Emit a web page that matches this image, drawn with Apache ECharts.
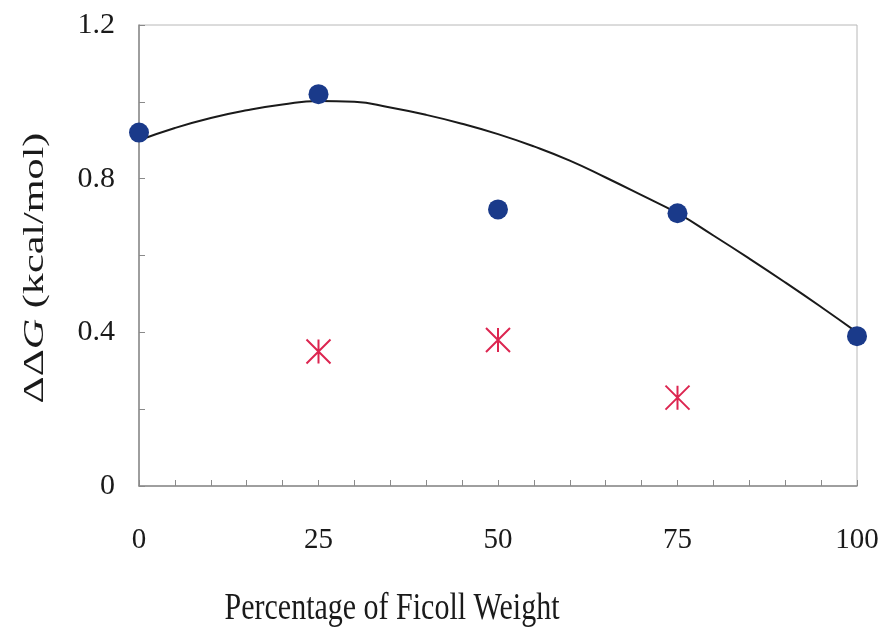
<!DOCTYPE html>
<html>
<head>
<meta charset="utf-8">
<script src="https://cdn.jsdelivr.net/npm/echarts@6/dist/echarts.min.js"></script>
<style>html,body{margin:0;padding:0;background:#fff}#c{width:885px;height:631px}</style>
</head>
<body>
<div id="c"></div>
<script>
const xTicks = [0, 25, 50, 75, 100];
const circleX = [0, 25, 50, 75, 100];
const circleY = [0.92, 1.02, 0.72, 0.71, 0.39];
const starX = [25, 50, 75];
const starY = [0.35, 0.38, 0.23];
const fitX = [0, 5, 10, 15, 20, 25, 30, 35, 40, 45, 50, 55, 60, 65, 70, 75, 80, 85, 90, 95, 100];
const fitY = [0.900, 0.932, 0.958, 0.978, 0.993, 1.002, 1.000, 0.985, 0.966, 0.943, 0.916, 0.884, 0.847, 0.803, 0.757, 0.710, 0.652, 0.592, 0.530, 0.466, 0.400];
const xTitle = 'Percentage of Ficoll Weight';

const chart = echarts.init(document.getElementById('c'));
const font = 'Liberation Serif';
chart.setOption({
  animation: false,
  backgroundColor: '#fff',
  grid: { left: 139, right: 28, top: 25, bottom: 145, show: true, borderColor: '#b8b8b8', borderWidth: 1 },
  xAxis: {
    type: 'value', min: 0, max: 100, interval: 25,
    axisLine: { lineStyle: { color: '#8a8a8a', width: 1.5 } },
    axisTick: { inside: true, length: 6, lineStyle: { color: '#8a8a8a' } },
    minorTick: { show: true, splitNumber: 5, length: 6, lineStyle: { color: '#8a8a8a' } },
    splitLine: { show: false },
    axisLabel: { margin: 40, fontFamily: font, fontSize: 29, color: '#1a1a1a',
      formatter: v => (xTicks.indexOf(v) >= 0 ? String(v) : '') }
  },
  yAxis: {
    type: 'value', min: 0, max: 1.2, interval: 0.4,
    axisLine: { show: true, lineStyle: { color: '#8a8a8a', width: 1.5 } },
    axisTick: { show: true, inside: true, length: 6, lineStyle: { color: '#8a8a8a' } },
    minorTick: { show: true, splitNumber: 2, length: 6, lineStyle: { color: '#8a8a8a' } },
    splitLine: { show: false },
    axisLabel: { margin: 24, fontFamily: font, fontSize: 30, color: '#1a1a1a',
      formatter: v => (v === 0 ? '0' : v.toFixed(1)) }
  },
  graphic: [
    { type: 'text', x: 392, y: 609, scaleY: 1.25,
      style: { text: xTitle, fontFamily: font, fontSize: 30, fill: '#1a1a1a',
        align: 'center', verticalAlign: 'middle' } },
    { type: 'text', x: 35, y: 268, rotation: Math.PI / 2, scaleX: 1.36, scaleY: 0.95,
      style: { text: '{a|ΔΔ}{b|G}{a| (kcal/mol)}', fontFamily: font, fontSize: 31, fill: '#1a1a1a',
        align: 'center', verticalAlign: 'middle',
        rich: { a: { fontFamily: font, fontSize: 31, fill: '#1a1a1a' },
                b: { fontFamily: font, fontSize: 31, fill: '#1a1a1a', fontStyle: 'italic' } } } }
  ],
  series: [
    { type: 'line', data: fitX.map((x, i) => [x, fitY[i]]), smooth: 0.5, showSymbol: false,
      lineStyle: { color: '#1a1a1a', width: 2 }, z: 2 },
    { type: 'scatter', data: circleX.map((x, i) => [x, circleY[i]]), symbol: 'circle', symbolSize: 20,
      itemStyle: { color: '#1a3a8a', opacity: 1 }, z: 3 },
    { type: 'scatter', data: starX.map((x, i) => [x, starY[i]]),
      symbol: 'path://M0,0L24,24M24,0L0,24M12,0L12,24', symbolSize: [24, 24],
      itemStyle: { color: 'rgba(0,0,0,0)', borderColor: '#dc2550', borderWidth: 2, opacity: 1 }, z: 3 }
  ]
});
</script>
</body>
</html>
